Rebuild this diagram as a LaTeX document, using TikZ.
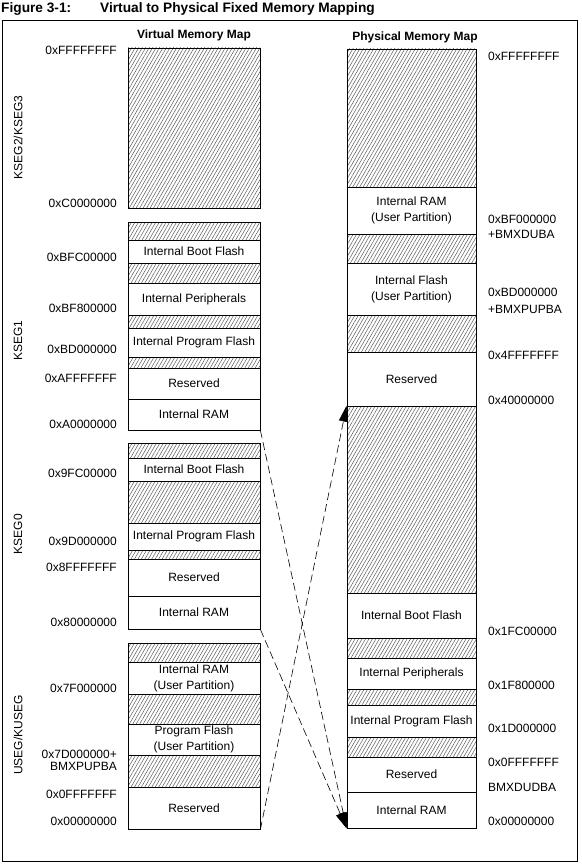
\documentclass[tikz,border=0pt]{standalone}
\usepackage{fontspec}
\setmainfont{Liberation Sans}
\usetikzlibrary{positioning,arrows.meta,patterns.meta}

\begin{document}
\begin{tikzpicture}[
  x=1pt, y=-1pt,
  memtext/.style={font={\fontsize{12}{16}\selectfont}},
  vblk/.style={draw, line width=0.8pt, minimum width=132pt, inner sep=0pt, align=center, memtext},
  pblk/.style={draw, line width=0.8pt, minimum width=129pt, inner sep=0pt, align=center, memtext},
  hatched/.style={pattern={Lines[angle=60,distance=3pt,line width=0.5pt]}, pattern color=black!65},
  vaddr/.style={anchor=east, inner sep=0pt, memtext},
  paddr/.style={anchor=west, inner sep=0pt, memtext},
  seglabel/.style={rotate=90, inner sep=0pt, memtext},
  titletext/.style={anchor=base west, inner sep=0pt, font={\fontsize{13.7}{16}\selectfont\bfseries}},
  maphead/.style={anchor=base, inner sep=0pt, font={\fontsize{12}{14}\selectfont\bfseries}},
  maparrow/.style={line width=0.6pt, dash pattern=on 8pt off 4pt, -{Triangle[length=16pt,width=9pt]}}
]
\useasboundingbox (0,0) rectangle (581,864);
\node[titletext] (fignum) at (1,12.5) {Figure 3-1:};
\node[titletext] (figtitle) at (100,12.5) {Virtual to Physical Fixed Memory Mapping};
\draw[line width=0.8pt] (2,20) rectangle (577,861);
\node[maphead] (vhead) at (194,38.7) {Virtual Memory Map};
\node[maphead] (phead) at (415,41) {Physical Memory Map};
% virtual map
\node[vblk, hatched, minimum height=160pt] (v1) at (194,128) {};
\node[vblk, hatched, minimum height=18pt] (v2) at (194,231) {};
\node[vblk, minimum height=23pt] (v3) at (194,251.5) {Internal Boot Flash};
\node[vblk, hatched, minimum height=20pt] (v4) at (194,273) {};
\node[vblk, minimum height=32pt] (v5) at (194,299) {Internal Peripherals};
\node[vblk, hatched, minimum height=13pt] (v6) at (194,321.5) {};
\node[vblk, minimum height=29pt] (v7) at (194,342.5) {Internal Program Flash};
\node[vblk, hatched, minimum height=11pt] (v8) at (194,362.5) {};
\node[vblk, minimum height=31pt] (v9) at (194,383.5) {Reserved};
\node[vblk, minimum height=31pt] (v10) at (194,414.5) {Internal RAM};
\node[vblk, hatched, minimum height=15pt] (v11) at (194,450.5) {};
\node[vblk, minimum height=23pt] (v12) at (194,469.5) {Internal Boot Flash};
\node[vblk, hatched, minimum height=42pt] (v13) at (194,502) {};
\node[vblk, minimum height=27pt] (v14) at (194,536.5) {Internal Program Flash};
\node[vblk, hatched, minimum height=9pt] (v15) at (194,554.5) {};
\node[vblk, minimum height=37pt] (v16) at (194,577.5) {Reserved};
\node[vblk, minimum height=33pt] (v17) at (194,612.5) {Internal RAM};
\node[vblk, hatched, minimum height=19pt] (v18) at (194,652.5) {};
\node[vblk, minimum height=32pt] (v19) at (194,678) {Internal RAM\\(User Partition)};
\node[vblk, hatched, minimum height=30pt] (v20) at (194,709) {};
\node[vblk, minimum height=31pt] (v21) at (194,739.5) {Program Flash\\(User Partition)};
\node[vblk, hatched, minimum height=32pt] (v22) at (194,771) {};
\node[vblk, minimum height=42pt] (v23) at (194,808) {Reserved};
% virtual addresses
\node[vaddr] (va1) at (117,50.5) {0xFFFFFFFF};
\node[vaddr] (va2) at (117,203.5) {0xC0000000};
\node[vaddr] (va3) at (117,257.5) {0xBFC00000};
\node[vaddr] (va4) at (117,308) {0xBF800000};
\node[vaddr] (va5) at (117,349.5) {0xBD000000};
\node[vaddr] (va6) at (117,378) {0xAFFFFFFF};
\node[vaddr] (va7) at (117,424.5) {0xA0000000};
\node[vaddr] (va8) at (117,473.5) {0x9FC00000};
\node[vaddr] (va9) at (117,541) {0x9D000000};
\node[vaddr] (va10) at (117,567.5) {0x8FFFFFFF};
\node[vaddr] (va11) at (117,622.5) {0x80000000};
\node[vaddr] (va12) at (117,688.5) {0x7F000000};
\node[vaddr] (va13) at (117,754.5) {0x7D000000+};
\node[vaddr] (va14) at (117,766) {BMXPUPBA};
\node[vaddr] (va15) at (117,794.5) {0x0FFFFFFF};
\node[vaddr] (va16) at (117,821.5) {0x00000000};
% segments
\node[seglabel] (kseg23) at (18,137.5) {KSEG2/KSEG3};
\node[seglabel] (kseg1) at (18,340.5) {KSEG1};
\node[seglabel] (kseg0) at (18,534) {KSEG0};
\node[seglabel] (kuseg) at (18,735) {USEG/KUSEG};
% physical map
\node[pblk, hatched, minimum height=138pt] (p1) at (411.5,118) {};
\node[pblk, minimum height=47pt] (p2) at (411.5,210.5) {Internal RAM\\(User Partition)};
\node[pblk, hatched, minimum height=29pt] (p3) at (411.5,248.5) {};
\node[pblk, minimum height=52pt] (p4) at (411.5,289) {Internal Flash\\(User Partition)};
\node[pblk, hatched, minimum height=37pt] (p5) at (411.5,333.5) {};
\node[pblk, minimum height=54pt] (p6) at (411.5,379) {Reserved};
\node[pblk, hatched, minimum height=187pt] (p7) at (411.5,499.5) {};
\node[pblk, minimum height=45pt] (p8) at (411.5,615.5) {Internal Boot Flash};
\node[pblk, hatched, minimum height=20pt] (p9) at (411.5,648) {};
\node[pblk, minimum height=31pt] (p10) at (411.5,673.5) {Internal Peripherals};
\node[pblk, hatched, minimum height=16pt] (p11) at (411.5,697) {};
\node[pblk, minimum height=32pt] (p12) at (411.5,721) {Internal Program Flash};
\node[pblk, hatched, minimum height=20pt] (p13) at (411.5,747) {};
\node[pblk, minimum height=35pt] (p14) at (411.5,774.5) {Reserved};
\node[pblk, minimum height=36pt] (p15) at (411.5,810) {Internal RAM};
% physical addresses
\node[paddr] (pa1) at (488,56) {0xFFFFFFFF};
\node[paddr] (pa2) at (488,219.5) {0xBF000000};
\node[paddr] (pa3) at (488,234) {+BMXDUBA};
\node[paddr] (pa4) at (488,292.5) {0xBD000000};
\node[paddr] (pa5) at (488,309) {+BMXPUPBA};
\node[paddr] (pa6) at (488,355) {0x4FFFFFFF};
\node[paddr] (pa7) at (488,400.5) {0x40000000};
\node[paddr] (pa8) at (488,631) {0x1FC00000};
\node[paddr] (pa9) at (488,685) {0x1F800000};
\node[paddr] (pa10) at (488,728) {0x1D000000};
\node[paddr] (pa11) at (488,762.5) {0x0FFFFFFF};
\node[paddr] (pa12) at (488,787.5) {BMXDUDBA};
\node[paddr] (pa13) at (488,821) {0x00000000};
% mappings
\draw[maparrow] (v10.south east) -- (p15.south west);
\draw[maparrow] (v17.south east) -- (p15.south west);
\draw[maparrow] (v23.south east) -- (p7.north west);
\end{tikzpicture}
\end{document}
